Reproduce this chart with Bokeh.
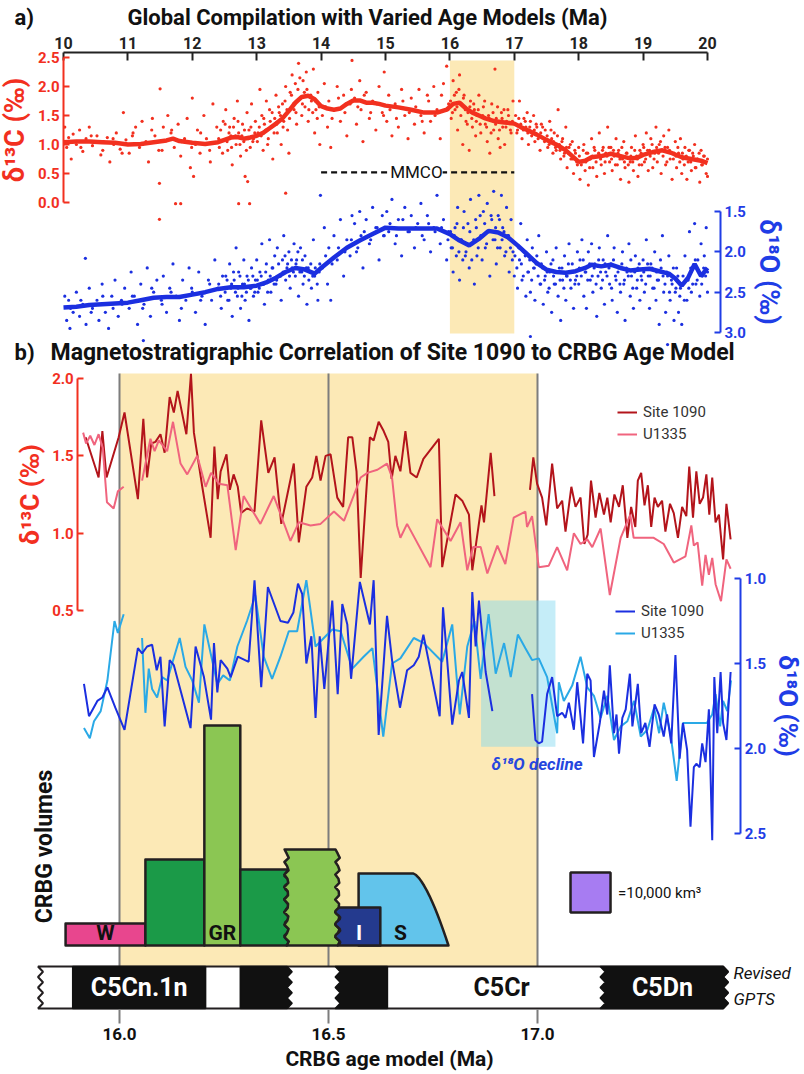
import numpy as np
from bokeh.plotting import figure
from bokeh.models import (Range1d, LinearAxis, FixedTicker, NumeralTickFormatter,
                          Label, Legend, LegendItem)
from bokeh.core.properties import value
from bokeh.embed import file_html
from bokeh.resources import INLINE

NAN = float("nan")
GAP = (NAN, NAN)
W, H = 804, 1074
FONT = "Roboto"

# ------------------------------------------------------------------
# (a) global benthic compilation, 10-20 Ma
# ------------------------------------------------------------------
# scattered samples, delta13C (permil)
c13_age = [
    10.02, 10.05, 10.08, 10.12, 10.15, 10.2, 10.25, 10.3, 10.35, 10.4, 10.45, 10.52, 10.58, 10.62, 10.68, 10.72, 10.78, 10.82, 10.88, 10.93, 10.97,
    11.02, 11.08, 11.12, 11.18, 11.22, 11.28, 11.32, 11.38, 11.42, 11.48, 11.49, 11.5, 11.55, 11.62, 11.68, 11.72, 11.74, 11.78, 11.82, 11.82, 11.88, 11.92, 11.97, 11.49,
    12.0, 12.02, 12.05, 12.08, 12.12, 12.18, 12.22, 12.28, 12.32, 12.38, 12.42, 12.48, 12.52, 12.55, 12.58, 12.6, 12.62, 12.65, 12.68, 12.7, 12.72, 12.72, 12.75, 12.78, 12.8, 12.82, 12.85, 12.86, 12.88, 12.89, 12.9, 12.92, 12.95, 12.98,
    13.02, 13.05, 13.08, 13.1, 13.12, 13.15, 13.18, 13.2, 13.22, 13.25, 13.28, 13.3, 13.32, 13.35, 13.38, 13.4, 13.42, 13.45, 13.45, 13.48, 13.5, 13.52, 13.55, 13.58, 13.6, 13.62, 13.65, 13.68, 13.7, 13.72, 13.75, 13.78, 13.8, 13.85, 13.88, 13.9, 13.92, 13.95, 13.98,
    14.02, 14.05, 14.1, 14.12, 14.15, 14.2, 14.25, 14.3, 14.35, 14.4, 14.45, 14.48, 14.52, 14.55, 14.6, 14.62, 14.65, 14.7, 14.75, 14.8, 14.85, 14.9, 14.95, 14.98,
    15.02, 15.05, 15.1, 15.15, 15.2, 15.25, 15.3, 15.35, 15.4, 15.45, 15.52, 15.55, 15.6, 15.65, 15.7, 15.75, 15.8, 15.85, 15.9, 15.95, 15.98,
    16.02, 16.05, 16.08, 16.1, 16.12, 16.15, 16.18, 16.2, 16.22, 16.25, 16.28, 16.3, 16.32, 16.35, 16.38, 16.4, 16.42, 16.45, 16.48, 16.52, 16.55, 16.58, 16.6, 16.62, 16.65, 16.68, 16.7, 16.72, 16.75, 16.78, 16.8, 16.82, 16.85, 16.88, 16.9, 16.95, 16.98,
    17.02, 17.05, 17.08, 17.1, 17.12, 17.15, 17.18, 17.2, 17.22, 17.25, 17.28, 17.3, 17.32, 17.35, 17.38, 17.4, 17.42, 17.45, 17.48, 17.52, 17.55, 17.58, 17.6, 17.62, 17.65, 17.68, 17.7, 17.72, 17.75, 17.78, 17.8, 17.82, 17.85, 17.88, 17.9, 17.92, 17.95, 17.98,
    18.0, 18.02, 18.05, 18.08, 18.1, 18.12, 18.15, 18.18, 18.2, 18.22, 18.25, 18.28, 18.3, 18.32, 18.35, 18.38, 18.4, 18.42, 18.45, 18.48, 18.5, 18.52, 18.55, 18.58, 18.6, 18.62, 18.65, 18.68, 18.7, 18.72, 18.75, 18.78, 18.8, 18.82, 18.85, 18.88, 18.9, 18.92, 18.95, 18.98,
    19.0, 19.02, 19.05, 19.08, 19.1, 19.12, 19.15, 19.18, 19.2, 19.22, 19.25, 19.28, 19.3, 19.32, 19.35, 19.38, 19.4, 19.42, 19.45, 19.48, 19.5, 19.52, 19.55, 19.58, 19.6, 19.62, 19.65, 19.68, 19.7, 19.72, 19.75, 19.78, 19.8, 19.82, 19.85, 19.88, 19.9, 19.92, 19.95, 19.98, 20.0, 20.0,
]
c13_val = [
    1.30, 0.95, 1.12, 0.75, 1.18, 1.00, 1.25, 0.88, 1.10, 1.30, 0.98, 1.15, 0.82, 1.05, 1.12, 0.70, 1.00, 1.20, 0.92, 1.55, 1.08,
    0.85, 1.20, 1.30, 0.95, 1.40, 1.05, 0.70, 1.45, 1.15, 0.90, 0.33, 1.96, 1.30, 1.50, 1.25, 0.95, -0.02, 1.35, 0.80, -0.02, 1.10, 1.45, 0.60, -0.29,
    1.80, 0.45, 1.00, 1.25, 0.85, 1.50, 1.10, 0.70, 1.70, 1.30, 0.95, 1.40, 1.60, 0.90, 1.30, 1.15, 0.65, 1.45, 1.00, 1.75, 1.20, -0.02, 0.80, 1.35, 1.05, 0.45, 1.55, 0.36, 1.25, -0.02, 0.95, 1.70, 1.10, 1.40,
    1.20, 1.95, 1.50, 0.90, 1.35, 1.75, 1.10, 1.60, 1.30, 0.75, 1.45, 1.85, 1.20, 1.55, 1.00, 1.70, 1.40, 2.00, 0.16, 1.25, 0.85, 1.90, 2.20, 1.60, 2.05, 1.35, 2.40, 1.80, 1.50, 2.10, 1.65, 1.95, 1.40, 1.75, 2.30, 1.20, 1.60, 1.90, 1.00,
    1.50, 2.05, 1.30, 1.75, 0.95, 1.60, 2.00, 1.40, 1.85, 1.15, 1.70, 2.45, 1.80, 1.35, 2.10, 1.60, 1.05, 1.90, 1.45, 1.75, 1.25, 2.00, 1.55, 2.25,
    1.40, 1.85, 1.15, 1.70, 1.30, 1.95, 1.50, 1.10, 1.80, 1.35, 1.95, 1.50, 1.20, 1.85, 1.40, 2.00, 1.60, 1.10, 2.05, 2.35, 1.70,
    1.45, 2.10, 1.60, 1.90, 1.25, 2.20, 1.70, 1.00, 1.85, 1.40, 1.55, 0.90, 1.75, 1.30, 1.60, 1.15, 1.50, 1.85, 1.20, 1.65, 1.35, 1.05, 1.50, 0.85, 1.70, 1.25, 2.30, 1.45, 1.10, 0.95, 1.55, 1.30, 1.00, 1.40, 1.60, 1.20, 1.75,
    1.50, 1.25, 1.75, 1.35, 1.10, 1.45, 1.30, 1.55, 1.00, 1.40, 1.20, 1.50, 1.05, 1.30, 1.15, 0.90, 1.35, 1.10, 1.25, 0.95, 1.40, 1.10, 0.85, 1.20, 0.90, 1.60, 1.00, 0.75, 1.10, 0.85, 1.30, 0.60, 0.95, 0.75, 1.05, 0.50, 0.85, 0.65,
    0.95, 0.40, 0.70, 1.00, 0.55, 0.85, 0.30, 0.75, 1.10, 0.60, 0.90, 0.45, 0.80, 1.20, 0.65, 0.95, 0.50, 0.85, 1.30, 0.70, 0.95, 0.55, 0.80, 1.10, 0.65, 0.90, 0.40, 0.75, 1.05, 0.60, 0.85, 0.35, 0.70, 0.95, 0.55, 1.15, 0.80, 0.45, 0.90, 0.65,
    1.00, 0.70, 1.20, 0.55, 0.90, 1.10, 0.60, 0.85, 1.30, 0.70, 1.00, 0.50, 0.90, 1.15, 0.65, 0.95, 1.25, 0.75, 0.40, 0.85, 1.05, 0.60, 0.85, 1.10, 0.50, 0.75, 0.95, 0.40, 0.70, 0.90, 0.55, 0.80, 1.00, 0.60, 0.75, 0.35, 0.90, 0.65, 0.80, 0.50, 0.75, 0.45,
]
# samples lying close to the running mean, delta13C
c13_core_age = [
    10.11, 10.27, 10.43, 10.61, 10.77, 10.91, 11.07, 11.23, 11.37, 11.53, 11.67, 11.83, 11.99, 12.13, 12.27,
    12.41, 12.44, 12.47, 12.51, 12.54, 12.57, 12.61, 12.64, 12.67, 12.71, 12.74, 12.77, 12.81, 12.84, 12.87, 12.91, 12.94, 12.97,
    13.01, 13.04, 13.07, 13.11, 13.14, 13.17, 13.21, 13.24, 13.27, 13.31, 13.34, 13.37, 13.41, 13.44, 13.47, 13.51, 13.54, 13.57, 13.61, 13.64, 13.67, 13.71, 13.74, 13.77, 13.81, 13.84, 13.87, 13.91, 13.94, 13.97,
    14.07, 14.17, 14.27, 14.37, 14.47, 14.57, 14.67, 14.77, 14.87, 14.97, 15.07, 15.17, 15.27, 15.37, 15.47, 15.57, 15.67, 15.77, 15.87, 15.97,
    16.01, 16.04, 16.07, 16.11, 16.14, 16.17, 16.21, 16.24, 16.27, 16.31, 16.34, 16.37, 16.41, 16.44, 16.47, 16.51, 16.54, 16.57, 16.61, 16.64, 16.67, 16.71, 16.74, 16.77, 16.81, 16.84, 16.87, 16.91, 16.94, 16.97,
    17.01, 17.04, 17.07, 17.11, 17.14, 17.17, 17.21, 17.24, 17.27, 17.31, 17.34, 17.37, 17.41, 17.44, 17.47, 17.51, 17.54, 17.57, 17.61, 17.64, 17.67, 17.71, 17.74, 17.77, 17.81, 17.84, 17.87, 17.91, 17.94, 17.97,
    18.01, 18.04, 18.07, 18.11, 18.14, 18.17, 18.21, 18.24, 18.27, 18.31, 18.34, 18.37, 18.41, 18.44, 18.47, 18.51, 18.54, 18.57, 18.61, 18.64, 18.67, 18.71, 18.74, 18.77, 18.81, 18.84, 18.87, 18.91, 18.94, 18.97,
    19.01, 19.04, 19.07, 19.11, 19.14, 19.17, 19.21, 19.24, 19.27, 19.31, 19.34, 19.37, 19.41, 19.44, 19.47, 19.51, 19.54, 19.57, 19.61, 19.64, 19.67, 19.71, 19.74, 19.77, 19.81, 19.84, 19.87, 19.91, 19.94, 19.97,
]
c13_core_val = [
    1.05, 0.95, 1.15, 0.90, 1.10, 0.85, 1.15, 1.00, 1.25, 0.90, 1.20, 1.05, 0.95, 1.20, 0.90,
    1.10, 1.25, 0.85, 1.35, 1.05, 1.20, 0.95, 1.30, 1.15, 1.40, 1.00, 1.15, 1.25, 0.90, 1.10, 1.30, 1.05, 1.20,
    1.05, 1.30, 1.15, 1.45, 1.25, 1.00, 1.40, 1.55, 1.20, 1.35, 1.65, 1.50, 1.30, 1.75, 1.60, 1.45, 1.85, 1.70, 1.55, 1.95, 2.15, 1.70, 1.90, 2.25, 1.60, 1.85, 1.55, 1.75, 1.45, 1.65,
    1.65, 1.45, 1.80, 1.55, 1.95, 1.65, 1.85, 1.55, 1.70, 1.50, 1.60, 1.45, 1.75, 1.55, 1.65, 1.40, 1.75, 1.50, 1.85, 1.60,
    1.75, 1.55, 1.85, 1.65, 1.95, 1.50, 1.80, 1.60, 1.35, 1.65, 1.45, 1.70, 1.40, 1.60, 1.35, 1.50, 1.75, 1.30, 1.45, 1.20, 1.55, 1.35, 1.65, 1.25, 1.45, 1.60, 1.30, 1.50, 1.25, 1.40,
    1.35, 1.20, 1.45, 1.30, 1.25, 1.40, 1.20, 1.30, 1.15, 1.25, 1.35, 1.10, 1.20, 1.30, 1.05, 1.15, 1.00, 1.25, 1.05, 0.95, 1.15, 0.90, 1.05, 0.80, 0.95, 0.85, 1.00, 0.75, 0.90, 0.70,
    0.80, 0.65, 0.90, 0.70, 0.85, 0.60, 0.80, 0.95, 0.70, 0.85, 0.75, 0.90, 0.70, 0.80, 0.95, 0.75, 0.90, 0.65, 0.85, 0.75, 0.95, 0.70, 0.85, 0.65, 0.80, 0.70, 0.90, 0.75, 0.65, 0.85,
    0.95, 0.75, 0.90, 0.80, 1.00, 0.75, 0.95, 0.85, 1.05, 0.80, 0.95, 0.70, 0.90, 0.85, 0.75, 0.80, 0.95, 0.70, 0.85, 0.65, 0.80, 0.90, 0.70, 0.85, 0.60, 0.75, 0.85, 0.65, 0.80, 0.70,
]
c13_smooth_age = [10.0, 10.2, 10.4, 10.6, 10.8, 11.0, 11.2, 11.4, 11.6, 11.7, 11.8, 12.0, 12.2, 12.4, 12.5, 12.6, 12.7, 12.8, 12.9, 13.0,
                  13.1, 13.2, 13.3, 13.4, 13.5, 13.6, 13.7, 13.8, 13.9, 14.0, 14.1, 14.2, 14.3, 14.4, 14.5, 14.6, 14.7, 14.8, 14.9, 15.0,
                  15.2, 15.4, 15.6, 15.8, 15.95, 16.05, 16.15, 16.25, 16.35, 16.45, 16.55, 16.7, 16.85, 17.0, 17.1, 17.2, 17.35, 17.5,
                  17.65, 17.8, 17.9, 18.0, 18.1, 18.2, 18.35, 18.5, 18.65, 18.8, 18.9, 19.0, 19.15, 19.3, 19.45, 19.6, 19.75, 19.9, 20.0]
c13_smooth_val = [1.04, 1.05, 1.05, 1.04, 1.03, 1.00, 1.01, 1.04, 1.07, 1.10, 1.06, 1.03, 1.01, 1.04, 1.08, 1.12, 1.13, 1.10, 1.12, 1.15,
                  1.20, 1.28, 1.36, 1.45, 1.58, 1.72, 1.82, 1.84, 1.78, 1.66, 1.62, 1.60, 1.62, 1.70, 1.76, 1.76, 1.72, 1.72, 1.70, 1.67,
                  1.64, 1.60, 1.55, 1.55, 1.60, 1.70, 1.72, 1.62, 1.55, 1.50, 1.45, 1.40, 1.38, 1.36, 1.30, 1.25, 1.17, 1.08,
                  1.00, 0.90, 0.80, 0.70, 0.72, 0.78, 0.80, 0.84, 0.80, 0.76, 0.77, 0.82, 0.87, 0.90, 0.85, 0.78, 0.75, 0.72, 0.68]

# scattered samples, delta18O (permil)
o18_age = [
    10.02, 10.05, 10.08, 10.1, 10.15, 10.2, 10.25, 10.3, 10.34, 10.35, 10.4, 10.45, 10.52, 10.55, 10.6, 10.65, 10.7, 10.75, 10.8, 10.85, 10.9, 10.95,
    11.02, 11.05, 11.1, 11.15, 11.2, 11.24, 11.25, 11.3, 11.35, 11.4, 11.45, 11.52, 11.55, 11.6, 11.65, 11.7, 11.75, 11.8, 11.85, 11.9, 11.95,
    12.0, 12.05, 12.1, 12.15, 12.2, 12.25, 12.3, 12.35, 12.4, 12.45, 12.52, 12.55, 12.58, 12.6, 12.62, 12.65, 12.68, 12.7, 12.72, 12.75, 12.78, 12.8, 12.82, 12.85, 12.88, 12.9, 12.92, 12.95, 12.98,
    13.0, 13.02, 13.05, 13.08, 13.1, 13.12, 13.15, 13.18, 13.2, 13.22, 13.25, 13.28, 13.3, 13.32, 13.35, 13.38, 13.4, 13.42, 13.45, 13.48, 13.5, 13.52, 13.55, 13.58, 13.6, 13.62, 13.65, 13.68, 13.7, 13.72, 13.75, 13.78, 13.8, 13.85, 13.88, 13.9, 13.95, 13.98, 13.99,
    14.02, 14.05, 14.1, 14.12, 14.15, 14.2, 14.25, 14.3, 14.35, 14.4, 14.45, 14.48, 14.52, 14.55, 14.6, 14.62, 14.65, 14.7, 14.75, 14.8, 14.85, 14.9, 14.95, 14.98,
    15.02, 15.05, 15.1, 15.15, 15.2, 15.25, 15.3, 15.35, 15.4, 15.45, 15.5, 15.55, 15.6, 15.65, 15.7, 15.75, 15.8, 15.85, 15.9, 15.95, 15.98,
    16.02, 16.05, 16.08, 16.1, 16.12, 16.15, 16.18, 16.2, 16.22, 16.25, 16.28, 16.3, 16.32, 16.35, 16.38, 16.4, 16.42, 16.45, 16.48, 16.5, 16.52, 16.55, 16.58, 16.6, 16.62, 16.65, 16.68, 16.7, 16.72, 16.75, 16.78, 16.8, 16.82, 16.85, 16.88, 16.9, 16.92, 16.95, 16.98,
    17.0, 17.02, 17.05, 17.08, 17.1, 17.12, 17.15, 17.18, 17.2, 17.22, 17.25, 17.25, 17.28, 17.3, 17.32, 17.35, 17.38, 17.4, 17.42, 17.45, 17.48, 17.5, 17.52, 17.55, 17.58, 17.6, 17.62, 17.65, 17.68, 17.7, 17.72, 17.75, 17.78, 17.8, 17.82, 17.85, 17.88, 17.9, 17.92, 17.95, 17.98,
    18.0, 18.02, 18.05, 18.08, 18.1, 18.12, 18.15, 18.18, 18.2, 18.22, 18.25, 18.28, 18.3, 18.32, 18.35, 18.38, 18.4, 18.42, 18.45, 18.48, 18.5, 18.52, 18.55, 18.58, 18.6, 18.62, 18.65, 18.68, 18.7, 18.72, 18.75, 18.78, 18.8, 18.82, 18.85, 18.88, 18.9, 18.92, 18.95, 18.98,
    19.0, 19.02, 19.05, 19.08, 19.1, 19.12, 19.15, 19.18, 19.2, 19.22, 19.25, 19.28, 19.3, 19.32, 19.35, 19.38, 19.4, 19.42, 19.45, 19.48, 19.5, 19.52, 19.55, 19.58, 19.6, 19.62, 19.65, 19.68, 19.7, 19.72, 19.75, 19.78, 19.8, 19.82, 19.85, 19.88, 19.9, 19.92, 19.95, 19.98, 19.38, 20.0, 20.0,
]
o18_val = [
    2.55, 2.85, 2.60, 2.95, 2.75, 2.50, 2.80, 2.65, 2.08, 2.90, 2.45, 2.70, 2.60, 2.85, 2.40, 2.75, 2.95, 2.55, 2.35, 2.80, 2.60, 2.45,
    2.70, 2.25, 2.55, 2.90, 2.40, 3.10, 2.65, 2.20, 2.80, 2.50, 2.35, 2.60, 2.30, 2.75, 2.45, 2.15, 2.55, 2.85, 2.35, 2.60, 2.20,
    2.50, 2.75, 2.25, 2.55, 2.90, 2.35, 2.60, 2.10, 2.45, 2.70, 2.30, 2.60, 2.15, 2.45, 2.80, 2.35, 1.95, 2.55, 2.25, 2.70, 2.40, 2.10, 2.60, 2.30, 2.85, 2.45, 2.20, 2.55, 2.35,
    2.10, 2.50, 2.25, 1.90, 2.40, 2.65, 2.15, 2.35, 1.85, 2.50, 2.20, 2.05, 2.40, 1.95, 2.30, 2.60, 2.10, 1.80, 2.35, 2.15, 2.00, 2.45, 2.20, 1.90, 2.30, 2.10, 2.55, 1.95, 2.25, 2.40, 2.05, 2.65, 2.20, 2.45, 1.85, 2.30, 2.60, 2.15, 1.30,
    2.20, 1.70, 2.40, 1.95, 2.60, 1.80, 2.10, 1.60, 2.30, 1.85, 2.05, 1.55, 1.65, 2.00, 1.50, 1.80, 2.20, 1.60, 1.90, 1.45, 1.70, 2.10, 1.55, 1.80,
    1.50, 1.75, 1.35, 1.90, 1.60, 2.05, 1.45, 1.75, 1.55, 1.95, 1.65, 1.40, 1.85, 1.55, 2.00, 1.70, 1.30, 1.90, 1.60, 2.10, 1.75,
    1.95, 2.25, 1.70, 2.05, 1.45, 2.35, 1.85, 2.10, 1.50, 2.00, 1.65, 2.20, 1.35, 1.90, 2.40, 1.60, 2.05, 1.30, 1.80, 2.10, 1.50, 1.95, 1.40, 1.75, 2.30, 1.60, 1.25, 1.85, 2.15, 1.55, 1.95, 1.30, 1.70, 2.05, 1.45, 1.80, 2.25, 1.60, 2.00,
    2.30, 1.90, 2.45, 2.10, 1.65, 2.35, 2.00, 2.55, 1.85, 2.25, 2.50, 3.05, 1.95, 2.20, 2.60, 2.05, 1.80, 2.40, 2.15, 2.65, 2.30, 2.00, 2.50, 2.25, 2.75, 2.10, 2.40, 1.95, 2.55, 2.20, 2.85, 2.35, 2.05, 2.60, 2.30, 1.90, 2.45, 2.15, 2.70, 2.35, 2.00,
    2.40, 2.10, 1.85, 2.55, 2.25, 2.70, 2.00, 2.35, 1.90, 2.50, 2.15, 2.80, 2.30, 1.95, 2.45, 2.10, 2.65, 2.25, 1.80, 2.40, 2.15, 2.60, 1.95, 2.35, 2.75, 2.20, 2.50, 2.00, 2.40, 2.85, 2.25, 1.90, 2.55, 2.30, 2.70, 2.05, 2.45, 2.20, 2.60, 2.35,
    2.10, 2.50, 1.85, 2.30, 2.70, 2.15, 2.45, 2.00, 2.60, 2.35, 2.90, 2.20, 1.80, 2.50, 2.75, 2.30, 2.05, 2.60, 2.40, 2.85, 2.50, 2.20, 2.75, 2.45, 2.90, 2.30, 2.05, 2.60, 2.35, 1.75, 2.50, 2.20, 1.65, 2.40, 2.10, 2.55, 1.90, 2.30, 2.05, 1.70, 3.15, 2.25, 2.50,
]
# samples lying close to the running mean, delta18O
o18_core_age = [
    10.11, 10.27, 10.43, 10.61, 10.77, 10.91, 11.07, 11.23, 11.37, 11.53, 11.67, 11.83, 11.99, 12.13, 12.27,
    12.41, 12.44, 12.47, 12.51, 12.54, 12.57, 12.61, 12.64, 12.67, 12.71, 12.74, 12.77, 12.81, 12.84, 12.87, 12.91, 12.94, 12.97,
    13.01, 13.04, 13.07, 13.11, 13.14, 13.17, 13.21, 13.24, 13.27, 13.31, 13.34, 13.37, 13.41, 13.44, 13.47, 13.51, 13.54, 13.57, 13.61, 13.64, 13.67, 13.71, 13.74, 13.77, 13.81, 13.84, 13.87, 13.91, 13.94, 13.97,
    14.07, 14.17, 14.27, 14.37, 14.47, 14.57, 14.67, 14.77, 14.87, 14.97, 15.07, 15.17, 15.27, 15.37, 15.47, 15.57, 15.67, 15.77, 15.87, 15.97,
    16.01, 16.04, 16.07, 16.11, 16.14, 16.17, 16.21, 16.24, 16.27, 16.31, 16.34, 16.37, 16.41, 16.44, 16.47, 16.51, 16.54, 16.57, 16.61, 16.64, 16.67, 16.71, 16.74, 16.77, 16.81, 16.84, 16.87, 16.91, 16.94, 16.97,
    17.01, 17.04, 17.07, 17.11, 17.14, 17.17, 17.21, 17.24, 17.27, 17.31, 17.34, 17.37, 17.41, 17.44, 17.47, 17.51, 17.54, 17.57, 17.61, 17.64, 17.67, 17.71, 17.74, 17.77, 17.81, 17.84, 17.87, 17.91, 17.94, 17.97,
    18.01, 18.04, 18.07, 18.11, 18.14, 18.17, 18.21, 18.24, 18.27, 18.31, 18.34, 18.37, 18.41, 18.44, 18.47, 18.51, 18.54, 18.57, 18.61, 18.64, 18.67, 18.71, 18.74, 18.77, 18.81, 18.84, 18.87, 18.91, 18.94, 18.97,
    19.01, 19.04, 19.07, 19.11, 19.14, 19.17, 19.21, 19.24, 19.27, 19.31, 19.34, 19.37, 19.41, 19.44, 19.47, 19.51, 19.54, 19.57, 19.61, 19.64, 19.67, 19.71, 19.74, 19.77, 19.81, 19.84, 19.87, 19.91, 19.94, 19.97,
]
o18_core_val = [
    2.70, 2.60, 2.75, 2.55, 2.70, 2.65, 2.55, 2.70, 2.45, 2.65, 2.50, 2.70, 2.45, 2.60, 2.40,
    2.40, 2.55, 2.30, 2.50, 2.35, 2.60, 2.40, 2.25, 2.50, 2.45, 2.30, 2.55, 2.40, 2.50, 2.35, 2.45, 2.30, 2.50,
    2.35, 2.45, 2.30, 2.40, 2.25, 2.50, 2.30, 2.20, 2.40, 2.35, 2.15, 2.30, 2.25, 2.05, 2.20, 2.30, 2.10, 2.25, 2.15, 2.00, 2.25, 2.10, 2.30, 2.20, 2.35, 2.15, 2.30, 2.20, 2.40, 2.25,
    2.05, 2.15, 1.95, 2.00, 1.85, 1.95, 1.75, 1.85, 1.70, 1.80, 1.65, 1.80, 1.60, 1.75, 1.70, 1.80, 1.65, 1.75, 1.70, 1.85,
    1.75, 1.95, 1.80, 1.65, 2.00, 1.85, 1.70, 2.05, 1.90, 1.75, 2.10, 1.85, 1.70, 1.95, 1.55, 1.80, 1.65, 1.90, 1.75, 1.55, 1.85, 1.70, 1.95, 1.60, 1.85, 1.75, 2.00, 1.80, 1.95, 2.10,
    2.05, 2.20, 1.95, 2.15, 2.30, 2.05, 2.25, 2.10, 2.35, 2.20, 2.15, 2.30, 2.40, 2.20, 2.35, 2.25, 2.45, 2.15, 2.30, 2.40, 2.25, 2.35, 2.20, 2.45, 2.30, 2.15, 2.35, 2.25, 2.40, 2.30,
    2.20, 2.30, 2.10, 2.25, 2.35, 2.15, 2.30, 2.20, 2.40, 2.10, 2.25, 2.35, 2.15, 2.30, 2.20, 2.45, 2.10, 2.30, 2.25, 2.40, 2.15, 2.35, 2.20, 2.30, 2.10, 2.45, 2.25, 2.35, 2.15, 2.30,
    2.25, 2.40, 2.15, 2.30, 2.20, 2.45, 2.25, 2.35, 2.10, 2.30, 2.40, 2.25, 2.50, 2.35, 2.20, 2.45, 2.30, 2.55, 2.40, 2.60, 2.35, 2.45, 2.20, 2.40, 2.10, 2.35, 2.25, 2.40, 2.20, 2.30,
]
o18_smooth_age = [10.0, 10.2, 10.4, 10.6, 10.8, 11.0, 11.2, 11.4, 11.6, 11.8, 12.0, 12.2, 12.4, 12.6, 12.8, 13.0, 13.15, 13.3, 13.45, 13.6,
                  13.75, 13.9, 14.0, 14.2, 14.4, 14.6, 14.8, 15.0, 15.2, 15.5, 15.8, 16.0, 16.15, 16.3, 16.45, 16.6, 16.75, 16.9, 17.05,
                  17.2, 17.35, 17.5, 17.65, 17.8, 17.95, 18.1, 18.2, 18.35, 18.5, 18.65, 18.8, 18.95, 19.1, 19.25, 19.4, 19.5, 19.6,
                  19.7, 19.8, 19.9, 20.0]
o18_smooth_val = [2.69, 2.68, 2.66, 2.65, 2.64, 2.63, 2.60, 2.57, 2.56, 2.56, 2.53, 2.50, 2.46, 2.44, 2.44, 2.42, 2.38, 2.32, 2.25, 2.20,
                  2.22, 2.27, 2.20, 2.07, 1.95, 1.86, 1.78, 1.70, 1.71, 1.71, 1.71, 1.78, 1.86, 1.92, 1.84, 1.74, 1.76, 1.82, 1.92,
                  2.03, 2.14, 2.22, 2.25, 2.26, 2.24, 2.20, 2.16, 2.18, 2.16, 2.20, 2.23, 2.22, 2.21, 2.24, 2.27, 2.33, 2.42,
                  2.32, 2.15, 2.30, 2.20]

for a_, b_ in ((c13_age, c13_val), (c13_core_age, c13_core_val), (o18_age, o18_val), (o18_core_age, o18_core_val)):
    assert len(a_) == len(b_)

mmco_start, mmco_end = 14.0, 17.0
crbg_window = (16.0, 17.0)

# ------------------------------------------------------------------
# (b) Site 1090 and U1335 on the CRBG age model
# ------------------------------------------------------------------
site1090_d13c = [
    (15.919, 1.62), (15.950, 1.36), (15.959, 1.66), (15.969, 1.36), (15.998, 1.62), (16.012, 1.78), (16.044, 1.22), (16.057, 1.74),
    (16.066, 1.36), (16.076, 1.58), (16.086, 1.59), (16.098, 1.64), (16.108, 1.52), (16.120, 1.88), (16.130, 1.78), (16.139, 1.92),
    (16.160, 1.64), (16.171, 2.03), (16.178, 1.65), (16.198, 1.30), (16.218, 0.97), (16.227, 1.56), (16.235, 1.22), (16.242, 1.40),
    (16.256, 1.51), (16.264, 1.28), (16.273, 1.38), (16.283, 1.30), (16.291, 1.13), (16.305, 1.16), (16.323, 1.14), (16.339, 1.73),
    (16.356, 1.39), (16.371, 1.49), (16.387, 1.06), (16.417, 1.45), (16.429, 0.94), (16.447, 1.30), (16.461, 1.36), (16.471, 1.50),
    (16.481, 1.34), (16.493, 1.50), (16.505, 1.51), (16.521, 1.23), (16.535, 1.17), (16.547, 1.62), (16.557, 1.62), (16.567, 1.40),
    (16.577, 0.71), (16.589, 1.21), (16.599, 1.62), (16.608, 1.60), (16.620, 1.72), (16.632, 1.66), (16.643, 1.59), (16.651, 1.35),
    (16.660, 1.50), (16.672, 1.40), (16.684, 1.66), (16.696, 1.39), (16.711, 1.36), (16.727, 1.48), (16.764, 1.61), (16.772, 0.78),
    (16.804, 1.25), (16.820, 1.21), (16.836, 1.12), (16.844, 0.76), (16.866, 1.18), (16.872, 1.07), (16.888, 1.52), (16.897, 1.24),
    GAP,
    (16.982, 1.28), (16.990, 1.49), (16.999, 1.32), (17.011, 1.23), (17.021, 1.05), (17.035, 1.45), (17.047, 1.16), (17.059, 1.21),
    (17.067, 1.01), (17.081, 1.30), (17.091, 1.17), (17.103, 1.23), (17.112, 0.93), (17.120, 0.99), (17.128, 1.34), (17.139, 1.10),
    (17.148, 1.26), (17.159, 1.12), (17.167, 1.23), (17.175, 1.07), (17.184, 1.25), (17.195, 1.17), (17.204, 1.31), (17.215, 0.97),
    (17.224, 1.17), (17.234, 1.04), (17.240, 1.34), (17.248, 1.39), (17.256, 1.18), (17.264, 1.31), (17.272, 1.04), (17.280, 1.23),
    (17.288, 1.17), (17.298, 1.21), (17.306, 1.01), (17.317, 1.19), (17.326, 1.13), (17.336, 0.97), (17.346, 1.17), (17.356, 1.11),
    (17.363, 1.43), (17.372, 1.10), (17.380, 1.40), (17.388, 1.19), (17.396, 1.23), (17.404, 1.38), (17.411, 1.12), (17.418, 1.36),
    (17.426, 1.07), (17.434, 1.12), (17.444, 0.83), (17.452, 1.19), (17.462, 0.96),
]
u1335_d13c = [
    (15.913, 1.65), (15.920, 1.58), (15.930, 1.63), (15.940, 1.57), (15.950, 1.64), (15.960, 1.55), (15.970, 1.20), (15.986, 1.16),
    (15.996, 1.27), (16.010, 1.30),
    GAP,
    (16.054, 1.34), (16.074, 1.61), (16.084, 1.53), (16.094, 1.60), (16.114, 1.53), (16.128, 1.72), (16.146, 1.45), (16.162, 1.38),
    (16.186, 1.50), (16.206, 1.30), (16.219, 1.39), (16.238, 1.32), (16.258, 1.31), (16.278, 0.89), (16.297, 1.24), (16.337, 1.06),
    (16.369, 1.24), (16.409, 0.95), (16.429, 1.07), (16.457, 1.05), (16.481, 1.06), (16.513, 1.14), (16.537, 1.08), (16.577, 1.36),
    (16.593, 1.39), (16.617, 1.41), (16.640, 1.45), (16.652, 1.36), (16.664, 1.05), (16.672, 0.97), (16.688, 1.06), (16.744, 0.78),
    (16.760, 1.09), (16.792, 0.95), (16.816, 1.07), (16.832, 0.76), (16.846, 0.91), (16.864, 0.91), (16.880, 0.74), (16.904, 0.92),
    (16.923, 0.80), (16.943, 1.10), (16.971, 1.14), (16.975, 1.04), (16.987, 1.11), (17.003, 0.78), (17.027, 0.79), (17.047, 0.91),
    (17.071, 0.76), (17.087, 1.00), (17.103, 0.93), (17.119, 0.96), (17.131, 0.91), (17.151, 1.03), (17.173, 0.60), (17.199, 0.97),
    (17.222, 1.12), (17.230, 0.97), (17.278, 0.97), (17.302, 0.93), (17.326, 0.81), (17.354, 0.85), (17.368, 1.05), (17.374, 0.92),
    (17.383, 0.94), (17.394, 0.66), (17.402, 0.86), (17.410, 0.73), (17.418, 0.84), (17.426, 0.67), (17.439, 0.56), (17.452, 0.83),
    (17.462, 0.77),
]
site1090_d18o = [
    (15.915, 1.62), (15.927, 1.81), (15.947, 1.72), (15.959, 1.70), (15.971, 1.64), (15.990, 1.76), (16.012, 1.89), (16.044, 1.41),
    (16.054, 1.44), (16.066, 1.40), (16.078, 1.39), (16.089, 1.54), (16.098, 1.46), (16.108, 1.87), (16.120, 1.48), (16.130, 1.51),
    (16.170, 1.88), (16.182, 1.40), (16.202, 1.58), (16.219, 1.83), (16.226, 1.38), (16.234, 1.67), (16.242, 1.48), (16.258, 1.53),
    (16.266, 1.58), (16.283, 1.46), (16.309, 1.49), (16.323, 1.01), (16.339, 1.64), (16.355, 1.05), (16.385, 1.25), (16.403, 1.26),
    (16.416, 1.20), (16.427, 1.03), (16.437, 1.09), (16.447, 1.50), (16.459, 1.34), (16.469, 1.82), (16.479, 1.34), (16.490, 1.65),
    (16.509, 1.13), (16.522, 1.68), (16.533, 1.15), (16.545, 1.27), (16.554, 1.59), (16.575, 1.02), (16.599, 1.27), (16.608, 1.01),
    (16.620, 1.92), (16.640, 1.22), (16.652, 1.48), (16.671, 1.76), (16.688, 1.54), (16.704, 1.51), (16.716, 1.46), (16.727, 1.33),
    (16.766, 1.81), (16.774, 1.17), (16.796, 1.86), (16.812, 1.60), (16.820, 1.55), (16.836, 1.82), (16.844, 1.08), (16.852, 1.40),
    (16.860, 1.13), (16.876, 1.55), (16.892, 1.78),
    GAP,
    (16.987, 1.68), (16.995, 1.95), (17.003, 1.97), (17.011, 1.96), (17.023, 1.68), (17.035, 1.58), (17.047, 1.81), (17.059, 1.79),
    (17.067, 1.82), (17.075, 1.73), (17.087, 1.89), (17.095, 1.61), (17.109, 1.97), (17.119, 1.56), (17.127, 1.60), (17.135, 2.05),
    (17.149, 1.85), (17.159, 1.66), (17.167, 1.80), (17.173, 1.51), (17.183, 1.91), (17.189, 1.80), (17.195, 2.03), (17.203, 1.82),
    (17.211, 1.77), (17.221, 1.56), (17.227, 1.87), (17.240, 1.62), (17.248, 1.91), (17.258, 1.85), (17.268, 1.99), (17.280, 1.74),
    (17.290, 1.80), (17.302, 1.93), (17.310, 1.80), (17.320, 1.97), (17.330, 1.45), (17.340, 2.06), (17.348, 1.85), (17.358, 2.01),
    (17.366, 2.46), (17.374, 2.11), (17.380, 2.09), (17.388, 2.11), (17.394, 1.97), (17.402, 2.08), (17.410, 1.77), (17.418, 2.54),
    (17.423, 1.58), (17.430, 1.91), (17.438, 1.55), (17.444, 1.85), (17.452, 1.95), (17.462, 1.55),
]
u1335_d18o = [
    (15.915, 1.88), (15.929, 1.94), (15.939, 1.84), (15.955, 1.78), (15.971, 1.60), (15.988, 1.25), (15.996, 1.32), (16.010, 1.21),
    GAP,
    (16.054, 1.35), (16.062, 1.79), (16.070, 1.53), (16.078, 1.65), (16.090, 1.70), (16.102, 1.58), (16.114, 1.60), (16.126, 1.50),
    (16.144, 1.35), (16.158, 1.52), (16.174, 1.60), (16.190, 1.73), (16.203, 1.27), (16.218, 1.44), (16.234, 1.62), (16.248, 1.57),
    (16.264, 1.60), (16.282, 1.40), (16.305, 1.25), (16.325, 1.10), (16.345, 1.46), (16.365, 1.59), (16.385, 1.46), (16.405, 1.31),
    (16.425, 1.31), (16.447, 1.01), (16.469, 1.40), (16.493, 1.34), (16.509, 1.30), (16.529, 1.31), (16.557, 1.53), (16.584, 1.46),
    (16.605, 1.41), (16.631, 1.93), (16.652, 1.50), (16.672, 1.47), (16.704, 1.35), (16.728, 1.38), (16.772, 1.49), (16.796, 1.27),
    (16.814, 1.80), (16.832, 1.40), (16.849, 1.25), (16.864, 1.59), (16.883, 1.21), (16.900, 1.56), (16.920, 1.38), (16.936, 1.58),
    (16.953, 1.33), (16.971, 1.41), (16.987, 1.48), (17.003, 1.47), (17.023, 1.58), (17.047, 1.91), (17.051, 1.61), (17.063, 1.72),
    (17.083, 1.63), (17.103, 1.46), (17.119, 1.64), (17.135, 1.69), (17.151, 1.82), (17.167, 1.69), (17.183, 1.95), (17.199, 1.87),
    (17.215, 1.84), (17.231, 1.72), (17.247, 1.93), (17.263, 1.89), (17.279, 1.76), (17.291, 1.91), (17.302, 1.73), (17.318, 1.91),
    (17.333, 2.19), (17.348, 1.85), (17.405, 1.85), (17.418, 1.80), (17.426, 1.68), (17.437, 1.87), (17.444, 1.72), (17.454, 1.78),
    (17.463, 1.60),
]
decline_window = (16.865, 17.043)
decline_range = (1.13, 1.99)

# CRBG eruptive units: start / end age (Ma) and eruption rate (km3 per kyr)
crbg_label = ["W", "", "GR", "", "", "S", "I"]
crbg_start = [15.871, 16.062, 16.203, 16.289, 16.400, 16.572, 16.522]
crbg_end = [16.062, 16.203, 16.289, 16.400, 16.522, 16.787, 16.624]
crbg_rate = [57.5, 224.7, 574.8, 198.6, 250.8, 188.1, 99.3]
crbg_color = ["#e8468e", "#1b9a48", "#8bc653", "#1b9a48", "#8bc653", "#62c4eb", "#243a8e"]
crbg_text_color = ["#111111", "#111111", "#111111", "#111111", "#111111", "#111111", "#ffffff"]
steens_plateau_end = 16.703          # Steens rate tapers off after this age
unit_volume_km3 = 10000              # reference square
unit_square_left, unit_square_width, unit_square_bottom = 17.079, 0.0957, 86.0

# revised GPTS: chron boundaries (Ma) and polarity of each interval
gpts_edges = [15.811, 15.888, 16.206, 16.289, 16.407, 16.522, 16.641, 17.156, 17.450]
gpts_normal = [False, True, False, True, False, True, False, True]
gpts_names = ["", "C5Cn.1n", "", "", "", "", "C5Cr", "C5Dn"]
gpts_name_at = [None, 16.047, None, None, None, None, 16.914, 17.299]
gpts_uncertain = [15.811, 16.407, 16.522, 17.156, 17.450]

# ------------------------------------------------------------------
RED = "#f2301f"
BLUE = "#1f3de6"
C13_1090 = "#b3141b"
C13_U1335 = "#f0647e"
O18_1090 = "#1b2fe0"
O18_U1335 = "#2aa9e6"
YELLOW = "#fce9b6"
GREY = "#7d7d7d"
INK = "#231f20"


def xr(px0, v0, px1, v1):
    k = (v1 - v0) / (px1 - px0)
    return Range1d(start=v0 - px0 * k, end=v0 + (W - px0) * k)


def yr(py0, v0, py1, v1):
    k = (v1 - v0) / (py1 - py0)
    return Range1d(start=v0 + (H - py0) * k, end=v0 - py0 * k)


def unzip(pairs):
    a = np.array(pairs, dtype=float)
    return a[:, 0], a[:, 1]


p = figure(width=W, height=H, output_backend="svg", toolbar_location=None,
           x_range=Range1d(0, W), y_range=Range1d(H, 0),
           x_axis_location=None, y_axis_location=None, min_border=0)
p.outline_line_color = None
p.background_fill_color = "white"
p.border_fill_color = "white"
p.xgrid.visible = False
p.ygrid.visible = False
for g in p.grid:
    g.visible = False

p.extra_x_ranges = {"a": xr(63, 10.0, 707, 20.0), "b": xr(119, 16.0, 537, 17.0)}
p.extra_y_ranges = {
    "a13": yr(202, 0.0, 57, 2.5),
    "a18": yr(211, 1.5, 332, 3.0),
    "b13": yr(610, 0.5, 378, 2.0),
    "b18": yr(578, 1.0, 833, 2.5),
    "vol": yr(945, 0.0, 905, 104.5),
    "gpts": yr(1008, 0.0, 966, 1.0),
}


def axis(side, xname, yname, loc, ticks, color, fmt="0.0", bounds="auto", label="",
         tick_in=6, tick_out=0, size="15px", label_size="24px", line=True):
    ax = LinearAxis(x_range_name=xname, y_range_name=yname, fixed_location=loc, bounds=bounds,
                    ticker=FixedTicker(ticks=ticks), formatter=NumeralTickFormatter(format=fmt))
    ax.axis_line_color = color if line else None
    ax.axis_line_width = 2
    ax.major_tick_line_color = color
    ax.major_tick_line_width = 2
    ax.major_tick_in = tick_in
    ax.major_tick_out = tick_out
    ax.minor_tick_line_color = None
    ax.major_label_text_font = FONT
    ax.major_label_text_font_style = "bold"
    ax.major_label_text_font_size = size
    ax.major_label_text_color = color
    ax.major_label_standoff = 4
    if label:
        ax.axis_label = label
        ax.axis_label_text_font = FONT
        ax.axis_label_text_font_style = "bold"
        ax.axis_label_text_font_size = label_size
        ax.axis_label_text_color = color
        ax.axis_label_standoff = 4
    p.add_layout(ax, side)
    return ax


def text_label(x, y, txt, size, align="left", style="bold", color="#111111", angle=0):
    p.add_layout(Label(x=x, y=y, text=txt, text_font=FONT, text_font_style=style,
                       text_font_size=size, text_color=color, text_align=align,
                       text_baseline="middle", angle=angle))


# ---------------- panel (a) ----------------
p.quad(left=[crbg_window[0]], right=[crbg_window[1]], top=[60], bottom=[333],
       x_range_name="a", fill_color=YELLOW, line_color=None)

for ages, vals in ((c13_age, c13_val), (c13_core_age, c13_core_val)):
    p.scatter(ages, vals, x_range_name="a", y_range_name="a13",
              size=3.2, fill_color=RED, line_color=None)
p.line(c13_smooth_age, c13_smooth_val, x_range_name="a", y_range_name="a13",
       line_color=RED, line_width=4.5)

for ages, vals in ((o18_age, o18_val), (o18_core_age, o18_core_val)):
    p.scatter(ages, vals, x_range_name="a", y_range_name="a18",
              size=3.2, fill_color=O18_1090, line_color=None)
p.line(o18_smooth_age, o18_smooth_val, x_range_name="a", y_range_name="a18",
       line_color=O18_1090, line_width=4.5)

mmco_level = 0.52
p.segment(x0=[mmco_start], y0=[mmco_level], x1=[mmco_end], y1=[mmco_level],
          x_range_name="a", y_range_name="a13", line_color="#111111", line_width=2.2,
          line_dash="6 4")
p.add_layout(Label(x=(mmco_start + mmco_end) / 2 - 0.02, y=mmco_level, x_range_name="a",
                   y_range_name="a13", text="MMCO", text_font=FONT, text_font_size="17px",
                   text_color="#111111", text_align="center", text_baseline="middle",
                   background_fill_color="white"))

axis("above", "a", "default", 52, list(range(10, 21)), "#222222", fmt="0", bounds=(10, 20),
     tick_in=8, size="16px")
axis("left", "a", "a13", 10.0, [0, 0.5, 1.0, 1.5, 2.0, 2.5], RED, bounds=(0, 2.5),
     label="δ¹³C (‰)", label_size="27px")
axis("right", "a", "a18", 20.2, [1.5, 2.0, 2.5, 3.0], BLUE, bounds=(1.5, 3.0),
     label="δ¹⁸O (‰)", label_size="27px")

text_label(14, 17, "a)", "22px")
text_label(127, 17, "Global Compilation with Varied Age Models (Ma)", "22px")

# ---------------- panel (b) ----------------
p.quad(left=[crbg_window[0]], right=[crbg_window[1]], top=[373], bottom=[966],
       x_range_name="b", fill_color=YELLOW, line_color=None)
ticks_b = [16.0, 16.5, 17.0]
p.segment(x0=ticks_b, y0=[373] * 3, x1=ticks_b, y1=[966] * 3, x_range_name="b",
          line_color=GREY, line_width=2)
p.quad(left=[decline_window[0]], right=[decline_window[1]], top=[decline_range[0]],
       bottom=[decline_range[1]], x_range_name="b", y_range_name="b18",
       fill_color="#7fd6f0", fill_alpha=0.45, line_color=None)

x, y = unzip(site1090_d13c)
r13a = p.line(x, y, x_range_name="b", y_range_name="b13", line_color=C13_1090, line_width=2)
x, y = unzip(u1335_d13c)
r13b = p.line(x, y, x_range_name="b", y_range_name="b13", line_color=C13_U1335, line_width=2)
x, y = unzip(u1335_d18o)
r18b = p.line(x, y, x_range_name="b", y_range_name="b18", line_color=O18_U1335, line_width=2)
x, y = unzip(site1090_d18o)
r18a = p.line(x, y, x_range_name="b", y_range_name="b18", line_color=O18_1090, line_width=2)

for items, loc in (([("Site 1090", r13a), ("U1335", r13b)], (617, H - 444)),
                   ([("Site 1090", r18a), ("U1335", r18b)], (615, H - 643))):
    leg = Legend(items=[LegendItem(label=t, renderers=[r]) for t, r in items], location=loc,
                 background_fill_alpha=0, border_line_color=None, padding=0, margin=0,
                 spacing=2, glyph_width=20, glyph_height=20, label_height=20,
                 label_standoff=6, label_text_font=FONT, label_text_font_size="15px",
                 label_text_color="#333333")
    p.add_layout(leg)

p.text(x=[(decline_window[0] + decline_window[1]) / 2 + 0.045], y=[2.09], text=["δ¹⁸O decline"],
       x_range_name="b", y_range_name="b18", text_font=value(FONT), text_font_style="bold italic",
       text_font_size="17px", text_color="#2546de", text_align="center", text_baseline="middle")

# CRBG eruption-rate blocks
wave_amp, wave_period = 0.006, 32.0
wavy_ages = (16.400, 16.522)


def edge(x_at, y0, y1):
    if round(x_at, 3) in wavy_ages:
        ys = np.linspace(y0, y1, 24)
        return list(x_at + wave_amp * np.sin(2 * np.pi * ys / wave_period)), list(ys)
    return [x_at, x_at], [y0, y1]


xs_all, ys_all = [], []
for s, e, h in zip(crbg_start, crbg_end, crbg_rate):
    lx, ly = edge(s, h, 0.0)
    if s == crbg_start[5]:
        t = np.linspace(0, 1, 14)
        rx = [e] + list(steens_plateau_end + (e - steens_plateau_end) * t[::-1])
        ry = [0.0] + list(h * (1 - t[::-1] ** 1.5))
    else:
        rx, ry = edge(e, 0.0, h)
    xs_all.append(lx + rx)
    ys_all.append(ly + ry)
p.patches(xs_all, ys_all, x_range_name="b", y_range_name="vol",
          fill_color=crbg_color, line_color=INK, line_width=2.5, line_join="round")

lab_x = [(s + e) / 2 for s, e in zip(crbg_start, crbg_end)]
lab_x[5] = 16.672
p.text(x=lab_x, y=[1.0] * len(lab_x), text=crbg_label, x_range_name="b", y_range_name="vol",
       text_font=value(FONT), text_font_style="bold", text_font_size="21px",
       text_color=crbg_text_color, text_align="center", text_baseline="bottom")

unit_h = unit_volume_km3 / (unit_square_width * 1000.0)
p.quad(left=[unit_square_left], right=[unit_square_left + unit_square_width],
       bottom=[unit_square_bottom], top=[unit_square_bottom + unit_h],
       x_range_name="b", y_range_name="vol", fill_color="#a77cf2", line_color=INK, line_width=2.5)
p.text(x=[unit_square_left + unit_square_width + 0.018], y=[unit_square_bottom + unit_h / 2],
       text=["=10,000 km³"], x_range_name="b", y_range_name="vol", text_font=value(FONT),
       text_font_size="15px", text_color="#111111", text_baseline="middle")

text_label(44, 846, "CRBG volumes", "23px", align="center", angle=np.pi / 2)

# GPTS column
tooth_amp, teeth = 0.012, 4


def gpts_edge(x_at, top_to_bottom):
    if x_at in gpts_uncertain:
        ys = np.linspace(1, 0, 2 * teeth + 1)
        xs = x_at + tooth_amp * np.where(np.arange(2 * teeth + 1) % 2 == 0, -0.5, 0.5)
        xs, ys = list(xs), list(ys)
    else:
        xs, ys = [x_at, x_at], [1.0, 0.0]
    if not top_to_bottom:
        xs, ys = xs[::-1], ys[::-1]
    return xs, ys


def chron_poly(x0, x1):
    rx, ry = gpts_edge(x1, True)
    lx, ly = gpts_edge(x0, False)
    return rx + lx, ry + ly


ox, oy = chron_poly(gpts_edges[0], gpts_edges[-1])
p.patch(ox, oy, x_range_name="b", y_range_name="gpts", fill_color="white",
        line_color=INK, line_width=2)
bx, by = [], []
for i, normal in enumerate(gpts_normal):
    if normal:
        px_, py_ = chron_poly(gpts_edges[i], gpts_edges[i + 1])
        bx.append(px_)
        by.append(py_)
p.patches(bx, by, x_range_name="b", y_range_name="gpts", fill_color="#111111",
          line_color="#111111", line_width=1.5)

nm_x = [gpts_name_at[i] for i in range(len(gpts_names)) if gpts_names[i]]
nm_t = [n for n in gpts_names if n]
nm_c = ["white" if gpts_normal[i] else "#111111" for i in range(len(gpts_names)) if gpts_names[i]]
p.text(x=nm_x, y=[0.5] * len(nm_x), text=nm_t, x_range_name="b", y_range_name="gpts",
       text_font=value(FONT), text_font_style="bold", text_font_size="25px",
       text_color=nm_c, text_align="center", text_baseline="middle")
p.text(x=[17.469, 17.469], y=[0.84, 0.22], text=["Revised", "GPTS"], x_range_name="b",
       y_range_name="gpts", text_font=value(FONT), text_font_style="italic",
       text_font_size="17px", text_color="#111111", text_baseline="middle")

axis("left", "b", "b13", 15.9, [0.5, 1.0, 1.5, 2.0], RED, bounds=(0.5, 2.0),
     label="δ¹³C (‰)", label_size="26px")
axis("right", "b", "b18", 17.486, [1.0, 1.5, 2.0, 2.5], BLUE, bounds=(1.0, 2.5),
     label="δ¹⁸O (‰)", label_size="26px")
axb = axis("below", "b", "default", 1009, ticks_b, GREY, bounds=(15.9, 17.392),
           label="CRBG age model (Ma)", tick_in=0, tick_out=14, size="17px",
           label_size="21px", line=False)
axb.major_label_text_color = "#111111"
axb.axis_label_text_color = "#111111"

text_label(14, 352, "b)", "22px")
text_label(50, 352, "Magnetostratigraphic Correlation of Site 1090 to CRBG Age Model", "23px")

open("out.html", "w").write(file_html(p, INLINE))
